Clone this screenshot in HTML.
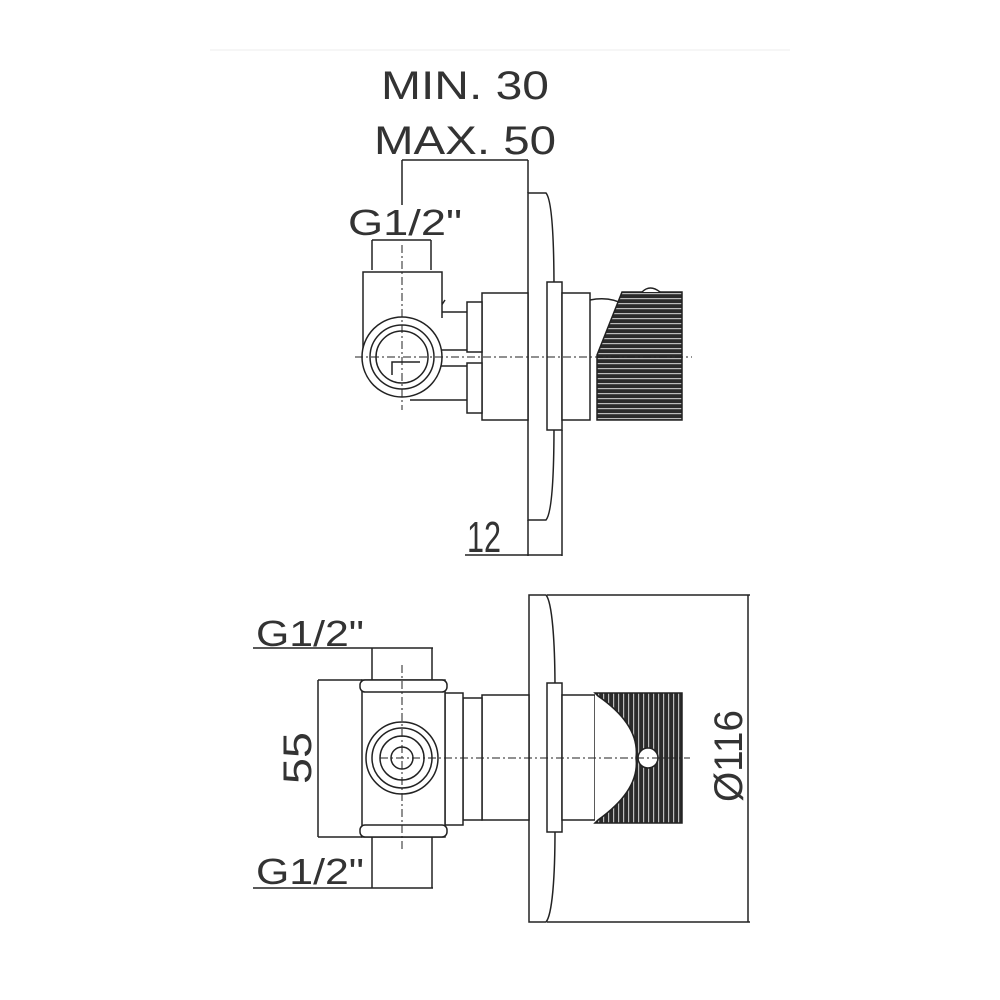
<!DOCTYPE html>
<html><head><meta charset="utf-8"><style>
html,body{margin:0;padding:0;background:#fff}
svg{display:block}
text{font-family:"Liberation Sans Narrow","Liberation Sans",sans-serif;fill:#333}
</style></head><body>
<svg width="1000" height="1000" viewBox="0 0 1000 1000" xmlns="http://www.w3.org/2000/svg">
<defs>
<pattern id="ridge" width="6" height="5" patternUnits="userSpaceOnUse">
<rect width="6" height="5" fill="#2a2a2a"/><rect y="3" width="6" height="1.2" fill="#bbb"/>
</pattern>
<pattern id="ridgeV" width="5" height="6" patternUnits="userSpaceOnUse">
<rect width="5" height="6" fill="#2a2a2a"/><rect x="3" width="1.2" height="6" fill="#bbb"/>
</pattern>
</defs>
<line x1="210" y1="50" x2="790" y2="50" stroke="#eee" stroke-width="1"/>
<g stroke="#222" stroke-width="1.5" fill="none">
<!-- TOP VIEW -->
<text x="465" y="99" font-size="40" text-anchor="middle" stroke="none" textLength="168" lengthAdjust="spacingAndGlyphs">MIN. 30</text>
<text x="465" y="154" font-size="40" text-anchor="middle" stroke="none" textLength="182" lengthAdjust="spacingAndGlyphs">MAX. 50</text>
<line x1="402" y1="160" x2="528" y2="160"/>
<line x1="528" y1="160" x2="528" y2="193"/>
<line x1="402" y1="160" x2="402" y2="205"/>
<text x="405" y="235" font-size="36" text-anchor="middle" stroke="none" textLength="114" lengthAdjust="spacingAndGlyphs">G1/2"</text>
<line x1="372" y1="240" x2="431" y2="240"/>
<line x1="372" y1="240" x2="372" y2="270"/>
<line x1="431" y1="240" x2="431" y2="270"/>
<!-- plate -->
<path d="M528 193 L546 193 C552 200 554 240 554 290 L554 425 C554 475 552 513 546 520 L528 520 Z" fill="#fff"/>
<rect x="547" y="282" width="15" height="148" fill="#fff"/>
<rect x="482" y="293" width="46" height="127" fill="#fff"/>
<rect x="562" y="293" width="28" height="127" fill="#fff"/>
<path d="M590 300 Q610 296 625 305" />
<!-- knob -->
<path d="M622 292 L682 292 L682 420 L597 420 L597 355 Z" fill="url(#ridge)" stroke="#222"/>
<path d="M642 292 Q650 284 660 292" fill="#fff"/>
<!-- connectors -->
<rect x="467" y="302" width="15" height="50" fill="#fff"/>
<rect x="467" y="363" width="15" height="50" fill="#fff"/>
<path d="M440 312 L467 312 M440 350 L467 350 M440 366 L467 366 M410 400 L467 400"/>
<path d="M433 318 L445 300"/>
<!-- elbow -->
<path d="M363 357 L363 272 L442 272 L442 318" fill="#fff"/>
<circle cx="402" cy="357" r="40" fill="#fff"/>
<circle cx="402" cy="357" r="32"/>
<circle cx="402" cy="357" r="26"/>
<path d="M392 375 L392 362 L420 362" />
<!-- centerlines -->
<line x1="355" y1="357" x2="692" y2="357" stroke-dasharray="8 3 2 3" stroke-width="1"/>
<line x1="402" y1="245" x2="402" y2="410" stroke-dasharray="8 3 2 3" stroke-width="1"/>
<!-- 12 dim -->
<line x1="528" y1="520" x2="528" y2="556"/>
<line x1="562" y1="430" x2="562" y2="556"/>
<line x1="465" y1="555" x2="562" y2="555"/>
<text x="484" y="552" font-size="44" text-anchor="middle" stroke="none" textLength="34" lengthAdjust="spacingAndGlyphs">12</text>

<!-- BOTTOM VIEW -->
<path d="M529 595 L546 595 C552 602 555 640 555 690 L555 830 C555 880 552 915 546 922 L529 922 Z" fill="#fff"/>
<line x1="547" y1="595" x2="750" y2="595"/>
<line x1="547" y1="922" x2="750" y2="922"/>
<line x1="748" y1="595" x2="748" y2="922"/>
<text transform="translate(742 756) rotate(-90)" font-size="40" text-anchor="middle" stroke="none" textLength="92" lengthAdjust="spacingAndGlyphs">Ø116</text>
<rect x="547" y="683" width="15" height="149" fill="#fff"/>
<rect x="482" y="695" width="47" height="125" fill="#fff"/>
<rect x="562" y="695" width="33" height="125" fill="#fff"/>
<path d="M595 693 L682 693 L682 823 L595 823 L598 820 Q640 790 636 758 Q640 725 598 696 Z" fill="url(#ridgeV)"/>
<path d="M595 693 L598 696 Q640 725 636 758 Q640 790 598 820 L595 823" fill="#fff"/>
<circle cx="648" cy="758" r="10" fill="#fff"/>
<!-- nut -->
<rect x="463" y="698" width="19" height="122" fill="#fff"/>
<rect x="445" y="693" width="18" height="132" fill="#fff"/>
<path d="M434 725 L445 715 M434 791 L445 801"/>
<!-- tee -->
<rect x="362" y="680" width="83" height="157" fill="#fff"/>
<rect x="360" y="680" width="87" height="12" rx="5" fill="#fff"/>
<rect x="360" y="825" width="87" height="12" rx="5" fill="#fff"/>
<circle cx="402" cy="758" r="36" fill="#fff"/>
<circle cx="402" cy="758" r="30"/>
<circle cx="402" cy="758" r="22"/>
<circle cx="402" cy="758" r="11"/>
<line x1="380" y1="758" x2="690" y2="758" stroke-dasharray="8 3 2 3" stroke-width="1"/>
<line x1="402" y1="665" x2="402" y2="850" stroke-dasharray="8 3 2 3" stroke-width="1"/>
<!-- G1/2 dims -->
<text x="310" y="646" font-size="36" text-anchor="middle" stroke="none" textLength="108" lengthAdjust="spacingAndGlyphs">G1/2"</text>
<line x1="253" y1="648" x2="433" y2="648"/>
<line x1="372" y1="648" x2="372" y2="680"/>
<line x1="432" y1="648" x2="432" y2="680"/>
<text x="310" y="884" font-size="36" text-anchor="middle" stroke="none" textLength="108" lengthAdjust="spacingAndGlyphs">G1/2"</text>
<line x1="253" y1="888" x2="433" y2="888"/>
<line x1="372" y1="837" x2="372" y2="888"/>
<line x1="432" y1="837" x2="432" y2="888"/>
<!-- 55 -->
<line x1="318" y1="680" x2="318" y2="837"/>
<line x1="318" y1="680" x2="362" y2="680"/>
<line x1="318" y1="837" x2="362" y2="837"/>
<text transform="translate(311 758) rotate(-90)" font-size="40" text-anchor="middle" stroke="none" textLength="52" lengthAdjust="spacingAndGlyphs">55</text>
</g>
</svg>
</body></html>
